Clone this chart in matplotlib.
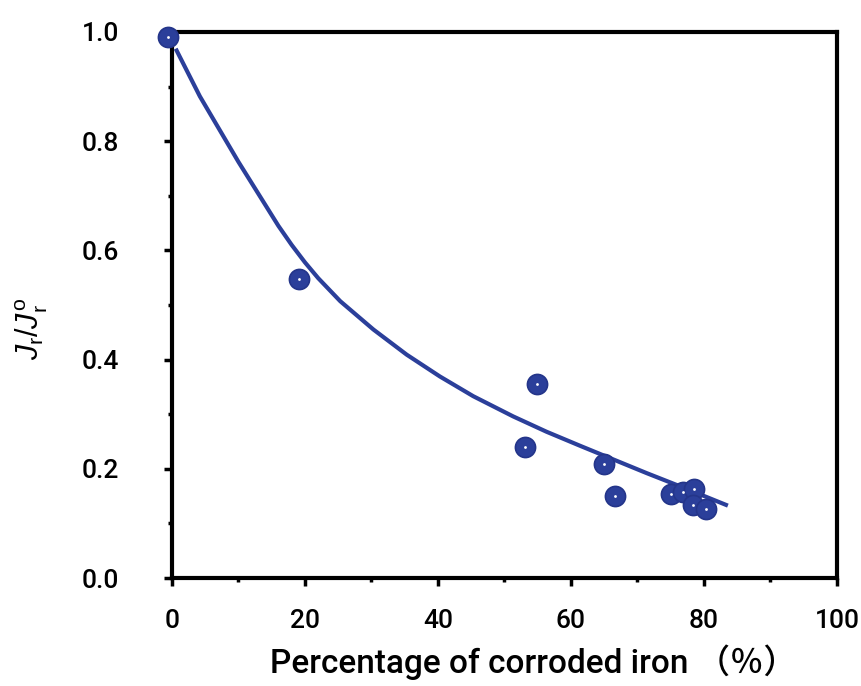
import numpy as np
import matplotlib.pyplot as plt
from matplotlib.ticker import MultipleLocator, FormatStrFormatter

plt.rcParams['mathtext.fontset'] = 'custom'
plt.rcParams['mathtext.it'] = 'Liberation Sans:italic'
plt.rcParams['mathtext.rm'] = 'Liberation Sans'

# measured points: corroded iron (%) vs Jr/Jr0
iron_pct = [-0.6, 19.1, 54.9, 53.1, 65.0, 66.6, 75.0, 76.8, 78.5, 78.3, 80.3]
jr_ratio = [0.990, 0.547, 0.356, 0.240, 0.209, 0.150, 0.154, 0.158, 0.163, 0.134, 0.127]

# fitted curve
fit_x = [0.7, 4.2, 10.0, 16.0, 18.0, 20.0, 22.0, 25.3, 30.3, 35.3, 40.3, 45.3,
         51.3, 56.3, 61.4, 66.4, 71.4, 76.4, 83.3]
fit_y = [0.966, 0.882, 0.762, 0.645, 0.610, 0.578, 0.549, 0.507, 0.455, 0.409,
         0.369, 0.333, 0.296, 0.268, 0.242, 0.217, 0.192, 0.168, 0.134]

blue = '#2b3f9a'
tick_font = 'Roboto'
jp_font = 'Noto Sans CJK JP'

fig = plt.figure(figsize=(8.62, 6.86), dpi=100)
ax = fig.add_axes([0.1995, 0.1574, 0.7715, 0.796])

ax.plot(fit_x, fit_y, color=blue, linewidth=3, solid_joinstyle='round', zorder=3)
ax.plot(iron_pct, jr_ratio, 'o', color=blue, markersize=14.5, markeredgecolor='#24358a',
        markeredgewidth=1.2, clip_on=False, zorder=4)
ax.plot(iron_pct, jr_ratio, 'o', color='white', markersize=2, markeredgewidth=0,
        clip_on=False, zorder=5)

ax.set_xlim(0, 100)
ax.set_ylim(0, 1.0)
ax.xaxis.set_major_locator(MultipleLocator(20))
ax.xaxis.set_minor_locator(MultipleLocator(10))
ax.yaxis.set_major_locator(MultipleLocator(0.2))
ax.yaxis.set_minor_locator(MultipleLocator(0.1))
ax.yaxis.set_major_formatter(FormatStrFormatter('%.1f'))

for s in ax.spines.values():
    s.set_linewidth(3)
ax.tick_params(which='major', direction='out', length=6, width=2.5, top=False, right=False)
ax.tick_params(which='minor', direction='out', length=3, width=2.5, top=False, right=False)
ax.tick_params(axis='y', which='major', pad=32)
ax.tick_params(axis='x', which='major', pad=16)
for lab in ax.get_xticklabels() + ax.get_yticklabels():
    lab.set_fontfamily(tick_font)
    lab.set_fontweight('medium')
    lab.set_fontsize(19)

ax.set_xlabel('Percentage of corroded iron \uff08\uff05\uff09', fontsize=24, fontweight='medium',
              family=[tick_font, jp_font])
ax.xaxis.set_label_coords(0.544, -0.122)
ax.set_ylabel(r'$J_\mathrm{r}/J_\mathrm{r}^{\mathrm{o}}$', fontsize=22)
ax.yaxis.set_label_coords(-0.183, 0.456)

fig.savefig('out.png')
